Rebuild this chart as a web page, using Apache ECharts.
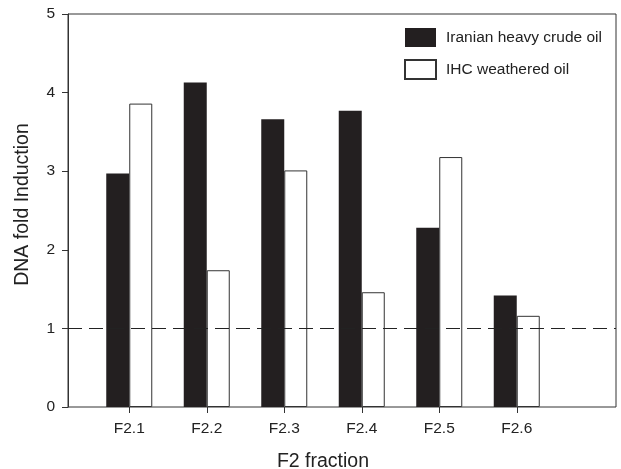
<!DOCTYPE html>
<html>
<head>
<meta charset="utf-8">
<script src="https://cdn.jsdelivr.net/npm/echarts@6/dist/echarts.min.js"></script>
<style>
  html, body { margin: 0; padding: 0; background: #fff; }
  #chart { width: 621px; height: 469px; }
</style>
</head>
<body>
<div id="chart"></div>
<script>
// fractions on the x axis
const fractions = ['F2.1', 'F2.2', 'F2.3', 'F2.4', 'F2.5', 'F2.6'];
// DNA fold induction per fraction
const crudeOil = [2.97, 4.13, 3.66, 3.77, 2.28, 1.42];
const weatheredOil = [3.86, 1.74, 3.01, 1.46, 3.18, 1.16];
const yTicks = [0, 1, 2, 3, 4, 5];
const baseline = 1;

const FONT = 'Liberation Sans, Arial, sans-serif';
const INK = '#231f20';

const option = {
    animation: false,
    backgroundColor: '#fff',
    textStyle: { fontFamily: FONT },
    legend: {
        orient: 'vertical',
        left: 399,
        top: 23,
        itemWidth: 31,
        itemHeight: 19,
        itemGap: 12,
        icon: 'rect',
        data: ['Iranian heavy crude oil', 'IHC weathered oil'],
        textStyle: {
            fontSize: 15.5,
            color: '#222',
            padding: [0, 0, 0, 5],
        },
    },
    grid: [
        // frame, y axis, baseline
        { left: 68, top: 14, right: 5, bottom: 62, show: true, borderColor: '#333', borderWidth: 1, outerBoundsMode: 'none', containLabel: false },
        // bars
        { left: 90.5, top: 14, right: 65.5, bottom: 62, outerBoundsMode: 'none', containLabel: false },
    ],
    xAxis: [
        {
            gridIndex: 0,
            type: 'value',
            min: 0,
            max: 1,
            show: false,
        },
        {
            gridIndex: 1,
            type: 'category',
            data: fractions,
            axisLine: { show: false },
            axisTick: { show: true, alignWithLabel: true, length: 6, lineStyle: { color: '#333' } },
            axisLabel: { fontSize: 15.5, color: '#222', margin: 14 },
            name: 'F2 fraction',
            nameLocation: 'middle',
            nameGap: 45,
            nameTextStyle: { fontSize: 19.5, color: '#222' },
        },
    ],
    yAxis: [
        {
            gridIndex: 0,
            type: 'value',
            min: yTicks[0],
            max: yTicks[yTicks.length - 1],
            interval: 1,
            axisLine: { show: true, lineStyle: { color: '#333' } },
            axisTick: { show: true, length: 6, lineStyle: { color: '#333' } },
            axisLabel: { fontSize: 15.5, color: '#222', margin: 13 },
            splitLine: { show: false },
            name: 'DNA fold Induction',
            nameLocation: 'middle',
            nameGap: 35,
            nameTextStyle: { fontSize: 19.5, color: '#222', padding: [0, 0, 0, 12] },
        },
        {
            gridIndex: 1,
            type: 'value',
            min: yTicks[0],
            max: yTicks[yTicks.length - 1],
            show: false,
        },
    ],
    series: [
        {
            name: 'Iranian heavy crude oil',
            type: 'bar',
            xAxisIndex: 1,
            yAxisIndex: 1,
            barWidth: 23,
            barGap: '0%',
            itemStyle: { color: INK, borderColor: INK, borderWidth: 0 },
            data: crudeOil,
        },
        {
            name: 'IHC weathered oil',
            type: 'bar',
            xAxisIndex: 1,
            yAxisIndex: 1,
            barWidth: 23,
            barGap: '0%',
            itemStyle: { color: '#fff', borderColor: '#333', borderWidth: 1 },
            data: weatheredOil,
        },
        {
            type: 'line',
            xAxisIndex: 0,
            yAxisIndex: 0,
            data: [],
            z: 5,
            markLine: {
                silent: true,
                symbol: 'none',
                label: { show: false },
                lineStyle: { color: '#222', width: 1, type: [14, 7] },
                data: [{ yAxis: baseline }],
            },
        },
    ],
};

const chart = echarts.init(document.getElementById('chart'));
chart.setOption(option);
</script>
</body>
</html>
